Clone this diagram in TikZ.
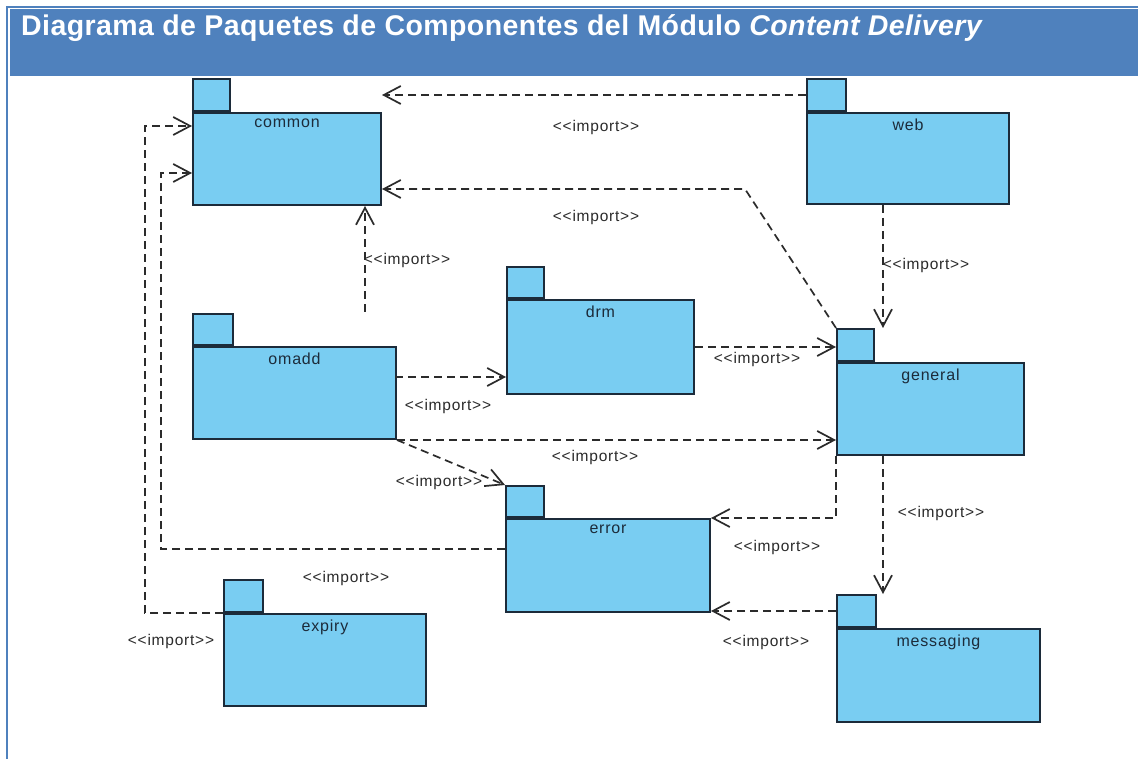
\documentclass[tikz,border=0pt]{standalone}
\usepackage{fontspec}
\setmainfont{Liberation Sans}
\newfontfamily\lblfont[LetterSpace=5]{Liberation Sans}
\newfontfamily\titlefont[LetterSpace=1.5]{Liberation Sans}
\usetikzlibrary{arrows.meta,calc}
\definecolor{hdrblue}{HTML}{4F81BD}
\definecolor{pkgfill}{HTML}{79CDF2}
\definecolor{pkgline}{HTML}{1C2B3A}
\definecolor{linkgray}{HTML}{2B2B2B}
\newcommand{\implabel}{\textless\textless import\textgreater\textgreater}
% package: name, left, tab right, tab top, body top, right, bottom, title
\newcommand{\pkgbox}[8]{%
  \node[pkgbody, minimum width={#6pt-#2pt}, minimum height={#7pt-#5pt},
        label={[pkgname, anchor=north, yshift=-7pt]north:#8}] (#1) at (#2,#5) {};
  \node[pkgtab, minimum width={#3pt-#2pt}, minimum height={#5pt-#4pt}] (#1-tab) at (#1.north west) {};
}
\begin{document}
\begin{tikzpicture}[x=1pt,y=-1pt,
  pkgbody/.style={draw=pkgline, fill=pkgfill, line width=2pt, inner sep=0pt, anchor=north west},
  pkgtab/.style={draw=pkgline, fill=pkgfill, line width=2pt, inner sep=0pt, anchor=south west},
  pkgname/.style={font=\lblfont\fontsize{16}{18}\selectfont, text=pkgline, inner sep=0pt},
  implbl/.style={font=\lblfont\fontsize{15.5}{18}\selectfont, text=linkgray, inner sep=0pt},
  imp/.style={draw=linkgray, line width=1.7pt, dash pattern=on 8pt off 5pt,
              -{Straight Barb[length=17pt,width=18pt]}}]
\useasboundingbox (0,0) rectangle (1138,759);
\fill[white] (0,0) rectangle (1138,759);

% frame and title band
\draw[hdrblue, line width=2pt] (1138,6.8) -- (6.8,6.8) -- (6.8,759);
\fill[hdrblue] (10,9.5) rectangle (1138,76);
\node[anchor=base west, text=white, inner sep=0pt,
      font=\titlefont\bfseries\fontsize{28.5}{32}\selectfont] (title) at (21,36)
  {Diagrama de Paquetes de Componentes del Módulo \textit{Content Delivery}};

% packages
\pkgbox{common}{192}{229}{80}{112}{380}{204}{common}
\pkgbox{web}{806}{845}{80}{112}{1008}{203}{web}
\pkgbox{omadd}{192}{232}{315}{346}{395}{438}{omadd}
\pkgbox{drm}{506}{543}{268}{299}{693}{393}{drm}
\pkgbox{general}{836}{873}{330}{362}{1023}{454}{general}
\pkgbox{error}{505}{543}{487}{518}{709}{611}{error}
\pkgbox{messaging}{836}{875}{596}{628}{1039}{721}{messaging}
\pkgbox{expiry}{223}{262}{581}{613}{425}{705}{expiry}

% helper points for bends
\coordinate (c-gen-bend) at (745,189);
\coordinate (c-omadd-up) at (365,312);
\coordinate (c-od) at (395,377);
\coordinate (c-wg) at (883,0);
\coordinate (c-el) at (161,549);
\coordinate (c-el2) at (161,173);
\coordinate (c-xl) at (145,613);
\coordinate (c-xl2) at (145,126);

% import dependencies
\draw[imp] (web-tab.west) -- (web-tab.west -| common.east);
\draw[imp] (general-tab.north west) -- (c-gen-bend) -- (c-gen-bend -| common.east);
\draw[imp] (c-omadd-up) -- (c-omadd-up |- common.south);
\draw[imp] (c-od) -- (c-od -| drm.west);
\draw[imp] (omadd.south east) -- (omadd.south east -| general.west);
\draw[imp] (omadd.south east) -- (error-tab.north west);
\draw[imp] (drm.east) -- (drm.east -| general-tab.west);
\draw[imp] (c-wg |- web.south) -- (c-wg |- general-tab.north);
\draw[imp] (general.south west) -- (general.south west |- error.north east) -- (error.north east);
\draw[imp] (c-wg |- general.south) -- (c-wg |- messaging-tab.north);
\draw[imp] (messaging-tab.west) -- (messaging-tab.west -| error.east);
\draw[imp] (error.west |- c-el) -- (c-el) -- (c-el2) -- (c-el2 -| common.west);
\draw[imp] (expiry.north west) -- (c-xl) -- (c-xl2) -- (c-xl2 -| common.west);

% stereotype labels
\node[implbl] (l-web-common) at (596,127) {\implabel};
\node[implbl] (l-gen-common) at (596,217) {\implabel};
\node[implbl] (l-omadd-common) at (407,260) {\implabel};
\node[implbl] (l-omadd-drm) at (448,406) {\implabel};
\node[implbl] (l-omadd-gen) at (595,457) {\implabel};
\node[implbl] (l-omadd-err) at (439,482) {\implabel};
\node[implbl] (l-drm-gen) at (757,359) {\implabel};
\node[implbl] (l-web-gen) at (926,265) {\implabel};
\node[implbl] (l-gen-err) at (777,547) {\implabel};
\node[implbl] (l-gen-msg) at (941,513) {\implabel};
\node[implbl] (l-msg-err) at (766,642) {\implabel};
\node[implbl] (l-err-common) at (346,578) {\implabel};
\node[implbl] (l-exp-common) at (171,641) {\implabel};
\end{tikzpicture}
\end{document}
